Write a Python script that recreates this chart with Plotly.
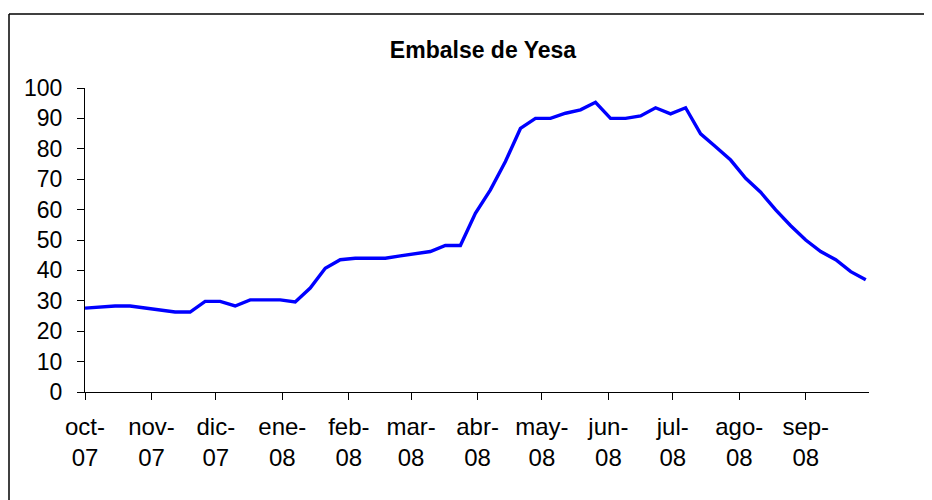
import plotly.graph_objects as go

title_text = "Embalse de Yesa"

dates = [
    "2007-10-01", "2007-10-08", "2007-10-15", "2007-10-22", "2007-10-29",
    "2007-11-05", "2007-11-12", "2007-11-19", "2007-11-26",
    "2007-12-03", "2007-12-10", "2007-12-17", "2007-12-24", "2007-12-31",
    "2008-01-07", "2008-01-14", "2008-01-21", "2008-01-28",
    "2008-02-04", "2008-02-11", "2008-02-18", "2008-02-25",
    "2008-03-03", "2008-03-10", "2008-03-17", "2008-03-24", "2008-03-31",
    "2008-04-07", "2008-04-14", "2008-04-21", "2008-04-28",
    "2008-05-05", "2008-05-12", "2008-05-19", "2008-05-26",
    "2008-06-02", "2008-06-09", "2008-06-16", "2008-06-23", "2008-06-30",
    "2008-07-07", "2008-07-14", "2008-07-21", "2008-07-28",
    "2008-08-04", "2008-08-11", "2008-08-18", "2008-08-25",
    "2008-09-01", "2008-09-08", "2008-09-15", "2008-09-22", "2008-09-29",
]

values = [
    27.6, 27.9, 28.3, 28.3, 27.6,
    26.9, 26.3, 26.3, 29.8,
    29.8, 28.3, 30.3, 30.3, 30.3,
    29.6, 34.2, 40.7, 43.5,
    44.0, 44.0, 44.0, 44.8,
    45.4, 46.2, 48.2, 48.2, 58.8,
    66.5, 75.8, 86.7, 90.0,
    90.0, 91.7, 92.8, 95.3,
    90.0, 90.0, 90.8, 93.5, 91.5,
    93.5, 84.9, 80.7, 76.3,
    70.3, 65.7, 59.9, 54.7,
    50.0, 46.2, 43.5, 39.6, 36.9,
]

month_ticks = [
    "2007-10-01", "2007-11-01", "2007-12-01", "2008-01-01", "2008-02-01", "2008-03-01",
    "2008-04-01", "2008-05-01", "2008-06-01", "2008-07-01", "2008-08-01", "2008-09-01",
]
month_labels = [
    "oct-<br>07", "nov-<br>07", "dic-<br>07", "ene-<br>08", "feb-<br>08", "mar-<br>08",
    "abr-<br>08", "may-<br>08", "jun-<br>08", "jul-<br>08", "ago-<br>08", "sep-<br>08",
]

y_ticks = list(range(0, 101, 10))

FONT = "Liberation Sans, Arial, sans-serif"

# page body has an 8px margin; work in screen pixels and subtract it
OFF = 8
W, H = 932 - OFF, 500 - OFF
L = 85 - OFF
T = 88 - OFF
R = W - (869 - OFF)
B = H - (392 - OFF)
pw, ph = W - L - R, H - T - B

def px_x(v):
    return (v - OFF - L) / pw

def px_y(v):
    return (H - B - (v - OFF)) / ph

fig = go.Figure()
fig.add_trace(go.Scatter(
    x=dates, y=values, mode="lines",
    line=dict(color="#0000FF", width=3.4),
    showlegend=False,
))

fig.update_layout(
    width=W, height=H,
    margin=dict(l=L, r=R, t=T, b=B),
    paper_bgcolor="white", plot_bgcolor="white",
    font=dict(family=FONT, color="black", size=23),
    title=dict(
        text="<b>" + title_text + "</b>",
        font=dict(family=FONT, size=23, color="black"),
        x=px_x(483), xref="paper", xanchor="center",
        y=1 - (50 - OFF) / H, yref="container", yanchor="middle",
    ),
    xaxis=dict(
        type="date",
        range=["2007-10-01", "2008-09-30 12:00"],
        tickmode="array", tickvals=month_ticks, ticktext=month_labels,
        ticks="outside", ticklen=7, tickcolor="black", tickwidth=1,
        showline=True, linecolor="black", linewidth=1,
        showgrid=False, zeroline=False,
        tickfont=dict(family=FONT, size=24, color="black"),
        ticklabelstandoff=6,
        automargin=False,
    ),
    yaxis=dict(
        range=[0, 100],
        tickmode="array", tickvals=y_ticks,
        ticks="outside", ticklen=7, tickcolor="black", tickwidth=1,
        showline=True, linecolor="black", linewidth=1,
        showgrid=False, zeroline=False,
        tickfont=dict(family=FONT, size=23, color="black"),
        ticklabelstandoff=10,
        automargin=False,
    ),
    shapes=[
        dict(type="line", xref="paper", yref="paper",
             x0=px_x(9), x1=px_x(960), y0=px_y(14), y1=px_y(14),
             line=dict(color="black", width=1.5)),
        dict(type="line", xref="paper", yref="paper",
             x0=px_x(9), x1=px_x(9), y0=px_y(14), y1=px_y(520),
             line=dict(color="black", width=1.5)),
    ],
)

fig.write_html("out.html")
